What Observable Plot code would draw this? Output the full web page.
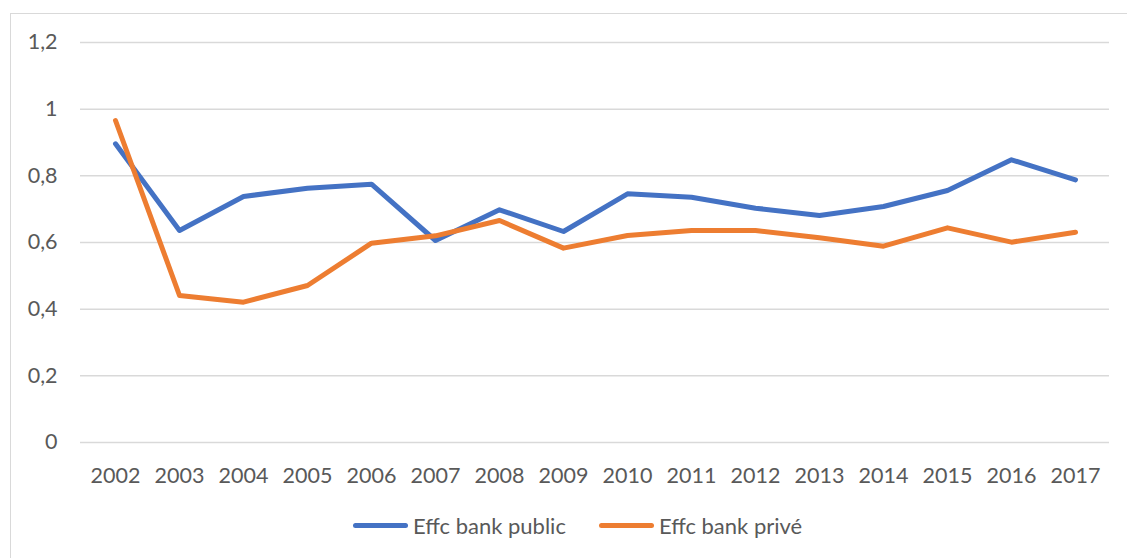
<!DOCTYPE html>
<html>
<head>
<meta charset="utf-8">
<script src="https://cdn.jsdelivr.net/npm/d3@7"></script>
<script src="https://cdn.jsdelivr.net/npm/@observablehq/plot@0.6"></script>
<style>
  html, body { margin: 0; padding: 0; background: #fff; }
  #wrap { position: relative; width: 1127px; height: 558px; overflow: hidden; font-family: Lato, "Open Sans", sans-serif; }
  #frame { position: absolute; left: 10px; top: 13px; width: 1200px; height: 700px; border: 1.5px solid #d9d9d9; box-sizing: border-box; }
  #chart { position: absolute; left: 0; top: 0; }
  #legend { position: absolute; left: 353px; top: 512px; display: flex; align-items: center; font-size: 22px; color: #595959; }
  .key { display: inline-block; width: 55px; height: 5px; border-radius: 3px; margin-right: 5px; }
  .item { display: flex; align-items: center; margin-right: 33px; }
</style>
</head>
<body>
<div id="wrap">
  <div id="frame"></div>
  <div id="chart"></div>
  <div id="legend"></div>
</div>
<script>
const years = ["2002","2003","2004","2005","2006","2007","2008","2009","2010","2011","2012","2013","2014","2015","2016","2017"];
const publicValues = [0.896, 0.636, 0.738, 0.763, 0.775, 0.606, 0.698, 0.633, 0.746, 0.736, 0.703, 0.681, 0.708, 0.756, 0.848, 0.788];
const priveValues  = [0.966, 0.441, 0.421, 0.471, 0.598, 0.620, 0.666, 0.583, 0.621, 0.636, 0.636, 0.614, 0.589, 0.644, 0.601, 0.631];
const seriesNames = ["Effc bank public", "Effc bank privé"];
const seriesColors = ["#4472C4", "#ED7D31"];
const yTicks = [0, 0.2, 0.4, 0.6, 0.8, 1, 1.2];

const data = [];
years.forEach((y, i) => {
  data.push({year: y, value: publicValues[i], series: seriesNames[0]});
  data.push({year: y, value: priveValues[i], series: seriesNames[1]});
});

const fmt = d => String(d).replace(".", ",");

const chart = Plot.plot({
  width: 1127,
  height: 500,
  marginLeft: 80,
  marginRight: 18,
  marginTop: 42,
  marginBottom: 58,
  style: {fontFamily: "Lato, 'Open Sans', sans-serif", fontSize: "21.5px", color: "#595959", background: "transparent"},
  x: {type: "point", domain: years, padding: 0.5, label: null, tickSize: 0, tickPadding: 25},
  y: {domain: [0, 1.2], ticks: yTicks, tickFormat: fmt, label: null, tickSize: 0, tickPadding: 23},
  color: {domain: seriesNames, range: seriesColors},
  marks: [
    Plot.ruleY(yTicks, {stroke: "#d9d9d9", strokeWidth: 1.5, strokeOpacity: 1}),
    Plot.line(data, {x: "year", y: "value", z: "series", stroke: "series", strokeWidth: 5, strokeLinecap: "round", strokeLinejoin: "round"})
  ]
});
document.getElementById("chart").appendChild(chart);

const legend = document.getElementById("legend");
seriesNames.forEach((n, i) => {
  const item = document.createElement("div");
  item.className = "item";
  const k = document.createElement("span");
  k.className = "key";
  k.style.background = seriesColors[i];
  const t = document.createElement("span");
  t.textContent = n;
  item.appendChild(k); item.appendChild(t);
  legend.appendChild(item);
});
</script>
</body>
</html>
